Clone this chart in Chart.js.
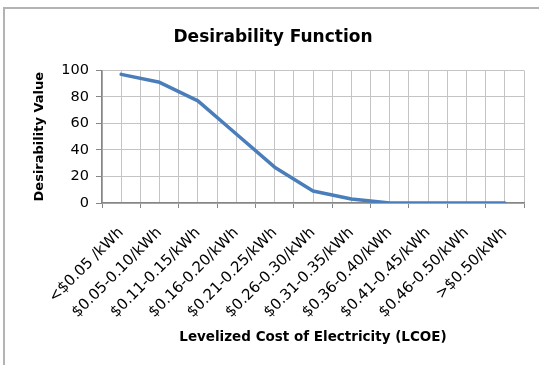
<!DOCTYPE html>
<html>
<head>
<meta charset="utf-8">
<script src="https://cdn.jsdelivr.net/npm/chart.js@4.4.0/dist/chart.umd.min.js"></script>
<style>
  html, body { margin: 0; padding: 0; background: #fff; }
  #wrap { position: relative; width: 539px; height: 365px; overflow: hidden; }
  #frame {
    position: absolute; left: 3px; top: 7px; width: 600px; height: 400px;
    border-top: 2px solid #b3b3b3; border-left: 2px solid #b3b3b3;
  }
  canvas { position: absolute; left: 0; top: 0; }
</style>
</head>
<body>
<div id="wrap">
  <div id="frame"></div>
  <canvas id="chart" width="539" height="365"></canvas>
</div>
<script>
// categories (LCOE bands) and desirability
const costBands = [
  "<$0.05 /kWh", "$0.05-0.10/kWh", "$0.11-0.15/kWh", "$0.16-0.20/kWh",
  "$0.21-0.25/kWh", "$0.26-0.30/kWh", "$0.31-0.35/kWh", "$0.36-0.40/kWh",
  "$0.41-0.45/kWh", "$0.46-0.50/kWh", ">$0.50/kWh"
];
const desirability = [97, 91, 77, 52, 27, 9, 3, 0, 0, 0, 0];
const yTicks = [0, 20, 40, 60, 80, 100];

const AXIS = "#868686";
const GRID = "#c4c4c4";
const FONT = "'DejaVu Sans', sans-serif";

const points = costBands.map((_, i) => ({ x: i, y: desirability[i] }));

new Chart(document.getElementById("chart").getContext("2d"), {
  type: "line",
  data: {
    datasets: [{
      data: points,
      borderColor: "#4a7ebb",
      borderWidth: 3.5,
      borderCapStyle: "round",
      borderJoinStyle: "round",
      pointRadius: 0,
      tension: 0,
      fill: false
    }]
  },
  options: {
    responsive: false,
    animation: false,
    // left/right padding keeps the title centred where the original has it
    layout: { padding: { left: 22, right: 15, top: 0, bottom: 0 } },
    plugins: {
      legend: { display: false },
      tooltip: { enabled: false },
      title: {
        display: true,
        text: "Desirability Function",
        color: "#000",
        font: { family: FONT, size: 17, weight: "bold" },
        padding: { top: 27, bottom: 23 }
      }
    },
    scales: {
      x: {
        type: "linear",
        min: -0.5,
        max: 10.5,
        // gridline at every half category, labels only on the centres
        afterBuildTicks: s => {
          const t = [];
          for (let v = -0.5; v <= 10.5; v += 0.5) t.push({ value: v });
          s.ticks = t;
        },
        afterFit: s => {
          s.height = 162;
          s.paddingLeft = 0;
          s.paddingRight = 0;
        },
        border: { color: AXIS, width: 1.5 },
        grid: {
          color: GRID,
          lineWidth: 1,
          tickLength: 5,
          tickColor: c => (c.tick && Number.isInteger(c.tick.value)) ? "rgba(0,0,0,0)" : AXIS
        },
        ticks: {
          autoSkip: false,
          minRotation: 45,
          maxRotation: 45,
          padding: 16,
          color: "#000",
          font: { family: FONT, size: 15 },
          callback: v => Number.isInteger(v) ? costBands[v] : ""
        },
        title: {
          display: true,
          text: "Levelized Cost of Electricity (LCOE)",
          color: "#000",
          font: { family: FONT, size: 13.5, weight: "bold" },
          padding: { top: 0, bottom: 19 }
        }
      },
      y: {
        min: 0,
        max: 100,
        afterBuildTicks: s => { s.ticks = yTicks.map(v => ({ value: v })); },
        afterFit: s => { s.width = 80; },
        border: { color: AXIS, width: 1.5 },
        grid: { color: GRID, lineWidth: 1, tickLength: 6, tickColor: AXIS },
        ticks: {
          padding: 7,
          color: "#000",
          font: { family: FONT, size: 14.5 }
        },
        title: {
          display: true,
          text: "Desirability Value",
          color: "#000",
          font: { family: FONT, size: 13, weight: "bold" },
          padding: { top: 10, bottom: 0 }
        }
      }
    }
  }
});
</script>
</body>
</html>
